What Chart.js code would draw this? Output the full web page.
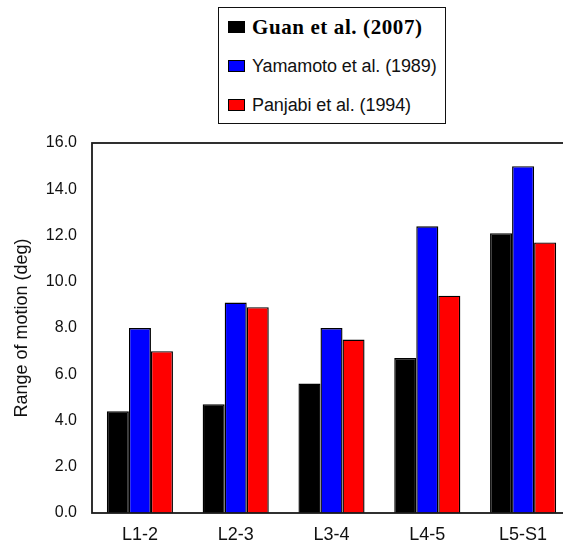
<!DOCTYPE html>
<html>
<head>
<meta charset="utf-8">
<script src="https://cdn.jsdelivr.net/npm/chart.js@4.4.1/dist/chart.umd.min.js"></script>
<style>
  html, body { margin: 0; padding: 0; background: #fff; overflow: hidden; }
  #wrap { position: relative; width: 563px; height: 546px; overflow: hidden; }
  #chartBox { position: absolute; left: 0; top: 0; width: 575px; height: 546px; }
  #legend {
    position: absolute; left: 218px; top: 7px; width: 228px; height: 117px;
    border: 1.6px solid #111; background: #fff; box-sizing: border-box;
  }
  .item { position: absolute; left: 9px; height: 22px; display: flex; align-items: center; white-space: nowrap; }
  .swatch { width: 17px; height: 12px; border: 1px solid #000; box-sizing: border-box; margin-right: 7px; }
  .lbl { font-family: "Liberation Sans", Arial, sans-serif; font-size: 18px; color: #111; letter-spacing: -0.1px; }
  .lbl.serif { font-family: "Liberation Serif", "Times New Roman", serif; font-weight: bold; font-size: 21px; letter-spacing: 0.6px; color: #000; }
</style>
</head>
<body>
<div id="wrap">
  <div id="chartBox"><canvas id="c"></canvas></div>
  <div id="legend"></div>
</div>
<script>
// Spinal segments and range of motion (degrees) per study
const segments = ["L1-2", "L2-3", "L3-4", "L4-5", "L5-S1"];
const seriesNames = ["Guan et al. (2007)", "Yamamoto et al. (1989)", "Panjabi et al. (1994)"];
const guan2007 = [4.4, 4.7, 5.6, 6.7, 12.1];
const yamamoto1989 = [8.0, 9.1, 8.0, 12.4, 15.0];
const panjabi1994 = [7.0, 8.9, 7.5, 9.4, 11.7];
const yTickValues = [0, 2, 4, 6, 8, 10, 12, 14, 16];

const seriesColors = ["#000000", "#0000ff", "#ff0000"];
const seriesValues = [guan2007, yamamoto1989, panjabi1994];

// Box around the plot area
const frame = {
  id: "frame",
  afterDatasetsDraw(chart) {
    const { ctx, chartArea: a } = chart;
    ctx.save();
    ctx.strokeStyle = "#1a1a1a";
    ctx.lineWidth = 1.8;
    ctx.strokeRect(a.left, a.top, a.right - a.left, a.bottom - a.top);
    ctx.restore();
  }
};

const chart = new Chart(document.getElementById("c"), {
  type: "bar",
  data: {
    labels: segments,
    datasets: seriesValues.map((vals, i) => ({
      label: seriesNames[i],
      data: vals,
      backgroundColor: seriesColors[i],
      borderColor: "#000",
      borderWidth: 1.4,
      barPercentage: 1.0,
      categoryPercentage: 0.69
    }))
  },
  options: {
    responsive: true,
    maintainAspectRatio: false,
    animation: false,
    devicePixelRatio: 1,
    layout: { padding: { top: 143, right: 4, left: 0, bottom: 0 } },
    plugins: { legend: { display: false }, tooltip: { enabled: false } },
    scales: {
      x: {
        afterFit(scale) { scale.height = 33; },
        grid: { display: false, drawTicks: false },
        border: { display: false },
        ticks: {
          color: "#111",
          padding: 11,
          font: { family: "Liberation Sans", size: 18 }
        }
      },
      y: {
        min: 0,
        max: 16,
        afterBuildTicks(scale) { scale.ticks = yTickValues.map(v => ({ value: v })); },
        afterFit(scale) { scale.width = 92; },
        grid: { display: false, drawTicks: false },
        border: { display: false },
        ticks: {
          color: "#111",
          padding: 15,
          font: { family: "Liberation Sans", size: 16 },
          callback: v => Number(v).toFixed(1)
        },
        title: {
          display: true,
          text: "Range of motion (deg)",
          color: "#111",
          padding: { top: 11, bottom: 0 },
          font: { family: "Liberation Sans", size: 18 }
        }
      }
    }
  },
  plugins: [frame]
});

// Legend built from the chart's datasets
const legend = document.getElementById("legend");
const rowTops = [8, 47, 86];
chart.data.datasets.forEach((ds, i) => {
  const row = document.createElement("div");
  row.className = "item";
  row.style.top = rowTops[i] + "px";
  const sw = document.createElement("span");
  sw.className = "swatch";
  sw.style.background = ds.backgroundColor;
  const tx = document.createElement("span");
  tx.className = "lbl" + (i === 0 ? " serif" : "");
  tx.textContent = ds.label;
  row.appendChild(sw);
  row.appendChild(tx);
  legend.appendChild(row);
});
</script>
</body>
</html>
